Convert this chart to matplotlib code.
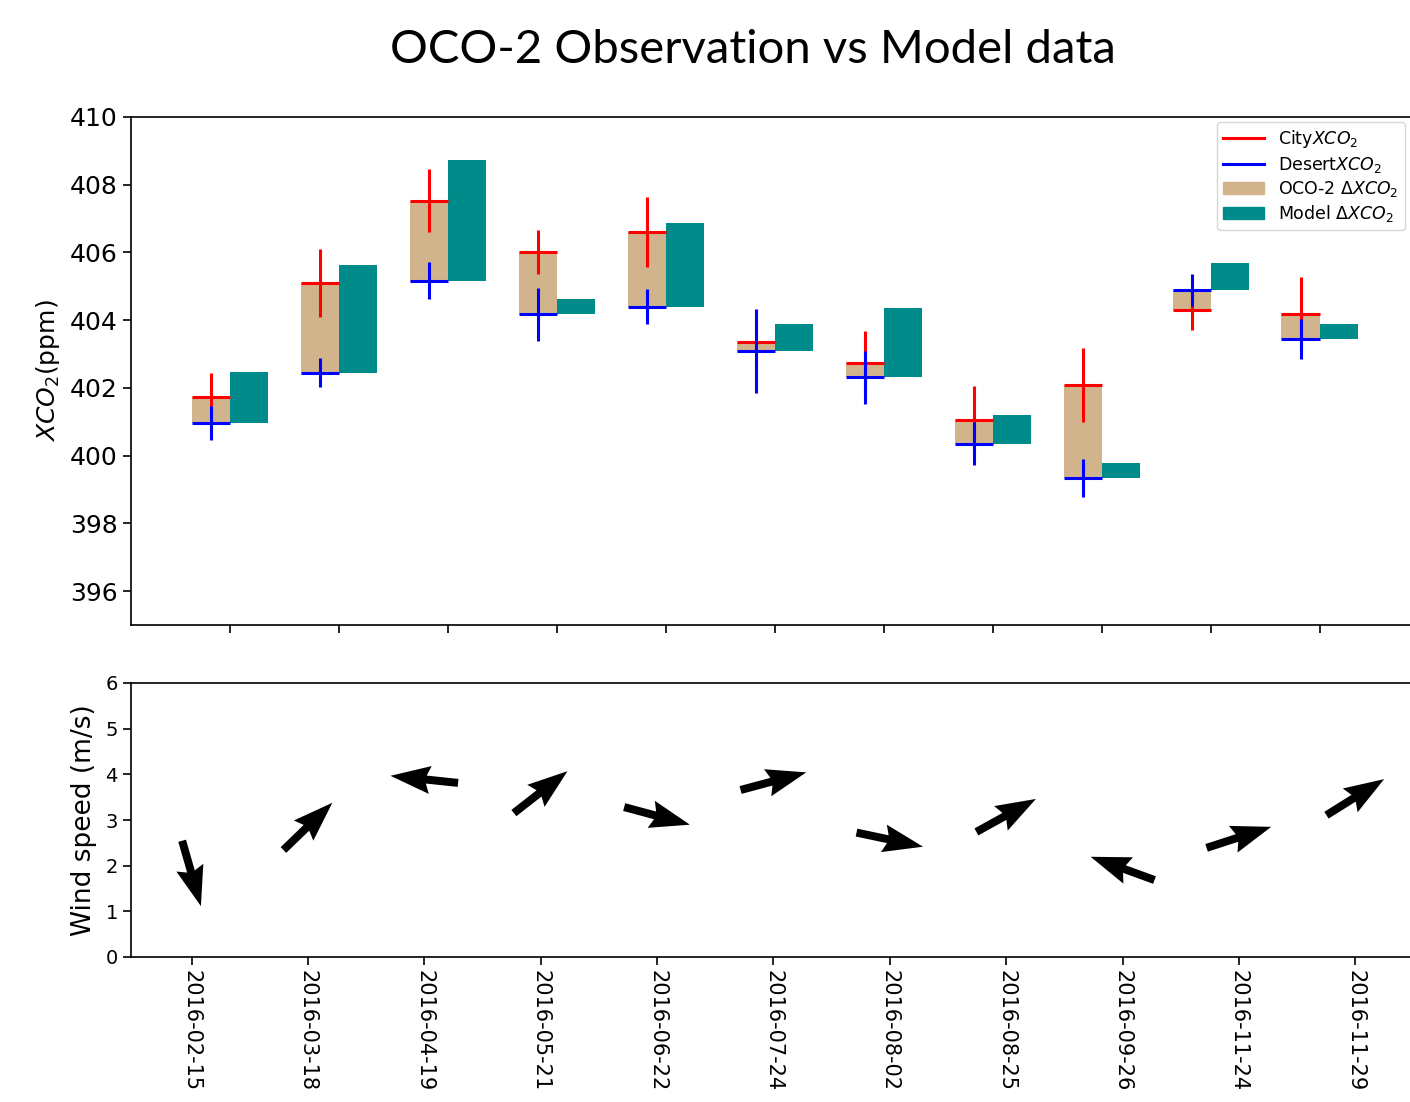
import numpy as np
import matplotlib
matplotlib.use("Agg")
import matplotlib.pyplot as plt
from matplotlib.lines import Line2D
from matplotlib.patches import Patch

# ==============================
# data
# ==============================
dates = ["2016-02-15", "2016-03-18", "2016-04-19", "2016-05-21", "2016-06-22",
         "2016-07-24", "2016-08-02", "2016-08-25", "2016-09-26", "2016-11-24",
         "2016-11-29"]

city_xco2 = [401.74, 405.09, 407.53, 406.01, 406.61, 403.35, 402.73, 401.06, 402.08, 404.29, 404.19]
city_err = [0.70, 1.00, 0.94, 0.64, 1.03, 0.60, 0.95, 1.00, 1.09, 0.58, 1.09]
desert_xco2 = [400.97, 402.45, 405.17, 404.17, 404.40, 403.08, 402.32, 400.35, 399.35, 404.89, 403.44]
desert_err = [0.50, 0.42, 0.55, 0.78, 0.51, 1.24, 0.78, 0.64, 0.56, 0.46, 0.59]
model_delta = [1.51, 3.19, 3.56, 0.45, 2.48, 0.81, 2.03, 0.86, 0.44, 0.79, 0.44]

wind_speed = [1.83, 2.86, 3.89, 3.61, 3.09, 3.85, 2.57, 3.10, 1.94, 2.62, 3.50]
wind_dir_deg = [-74, 44, 174, 38, -15, 15, -12, 29, 160, 18, 32]

# ==============================
# figure
# ==============================
W, H = 1410, 1102
fig = plt.figure(figsize=(W / 100, H / 100), dpi=100)

x = np.arange(len(dates))
w = 0.35
city = np.array(city_xco2)
desert = np.array(desert_xco2)

# --- top panel: XCO2 ---
ax1 = fig.add_axes([131 / W, 1 - 625 / H, 1 - 131 / W, (625 - 117) / H])
ax1.bar(x - w / 2, city - desert, width=w, bottom=desert, color="tan", zorder=1)
ax1.bar(x + w / 2, model_delta, width=w, bottom=desert, color="darkcyan", zorder=1)
ax1.errorbar(x - w / 2, city, xerr=w / 2, yerr=city_err, fmt="none",
             ecolor="red", elinewidth=2.2, zorder=2)
ax1.errorbar(x - w / 2, desert, xerr=w / 2, yerr=desert_err, fmt="none",
             ecolor="blue", elinewidth=2.2, zorder=3)
ax1.set_xlim(-0.91, 10.83)
ax1.set_ylim(395, 410)
ax1.set_yticks(np.arange(396, 411, 2))
ax1.set_xticks(x)
ax1.set_xticklabels([])
ax1.tick_params(axis="y", labelsize=18, length=6, width=1.2)
ax1.tick_params(axis="x", length=6, width=1.2)
ax1.set_ylabel("$XCO_2$(ppm)", fontsize=18, labelpad=6)
ax1.spines["right"].set_visible(False)
for s in ["left", "top", "bottom"]:
    ax1.spines[s].set_linewidth(1.2)

handles = [Line2D([], [], color="red", lw=2.2),
           Line2D([], [], color="blue", lw=2.2),
           Patch(color="tan"),
           Patch(color="darkcyan")]
labels = ["City$XCO_2$", "Desert$XCO_2$", "OCO-2 $\\Delta XCO_2$", "Model $\\Delta XCO_2$"]
ax1.legend(handles, labels, loc="upper right", fontsize=12.5, borderaxespad=0.3,
           labelspacing=0.25, handlelength=2.4, borderpad=0.35)

# --- bottom panel: wind ---
ax2 = fig.add_axes([131 / W, 1 - 957 / H, 1 - 131 / W, (957 - 683) / H])
ang = np.deg2rad(wind_dir_deg)
ax2.quiver(x, wind_speed, np.cos(ang), np.sin(ang), angles="uv", pivot="middle",
           scale_units="dots", scale=1 / 68, units="dots", width=8,
           headwidth=3.5, headlength=5, headaxislength=4.5, color="black")
ax2.set_xlim(-0.52, 10.47)
ax2.set_ylim(0, 6)
ax2.set_xticks(x)
ax2.set_xticklabels(dates, rotation=270)
ax2.tick_params(axis="x", labelsize=15, length=6, width=1.2)
ax2.tick_params(axis="y", labelsize=14, length=6, width=1.2)
ax2.set_ylabel("Wind speed (m/s)", fontsize=19, labelpad=6)
ax2.spines["right"].set_visible(False)
for s in ["left", "top", "bottom"]:
    ax2.spines[s].set_linewidth(1.2)

fig.text(753 / W, 1 - 50 / H, "OCO-2 Observation vs Model data",
         fontsize=34, family="Lato", ha="center", va="center")

fig.savefig("out.png", dpi=100)
